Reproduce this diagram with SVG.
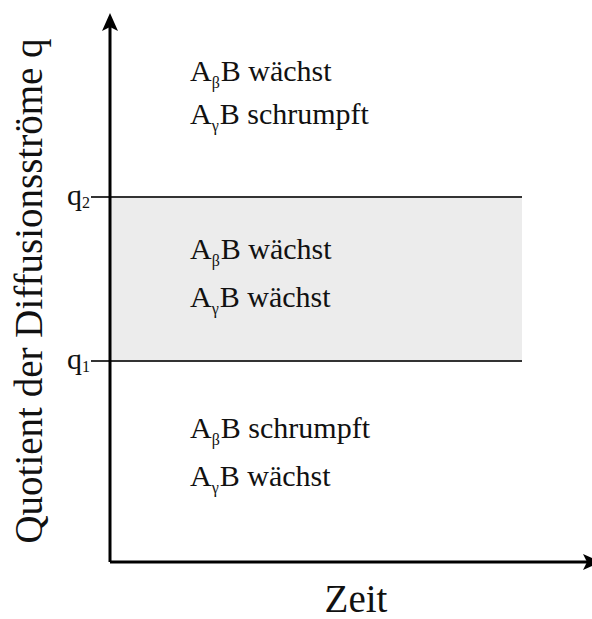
<svg xmlns="http://www.w3.org/2000/svg" width="592" height="619" viewBox="0 0 592 619">
  <style>
    .lbl { font-size: 30px; }
    .sub { font-size: 16px; }
    .axis-title { font-size: 39px; }
    .axis { stroke: #000; stroke-width: 3; fill: none; }
    .level { stroke: #333; stroke-width: 2; fill: none; }
  </style>
  <defs>
    <marker id="arrow" markerUnits="userSpaceOnUse" viewBox="0 0 18 16" refX="4" refY="8" markerWidth="18" markerHeight="16" orient="auto">
      <path d="M0,0 L18,8 L0,16 L4,8 Z" fill="#000"/>
    </marker>
  </defs>

  <!-- intermediate band between q1 and q2 -->
  <rect id="band" x="110" y="197" width="412" height="164" fill="#ececec"/>

  <g id="connectors">
    <line class="level" x1="91" y1="197" x2="522" y2="197"/>
    <line class="level" x1="91" y1="361" x2="522" y2="361"/>
    <path class="axis" d="M110,562 L110,27" marker-end="url(#arrow)"/>
    <path class="axis" d="M110,562 L587,562" marker-end="url(#arrow)"/>
  </g>

  <g font-family="'Liberation Serif', 'DejaVu Serif', 'Times New Roman', serif" fill="#111">
    <g id="q2">
      <text class="lbl" x="67" y="205">q<tspan class="sub" dy="3">2</tspan></text>
    </g>
    <g id="q1">
      <text class="lbl" x="67" y="369">q<tspan class="sub" dy="3">1</tspan></text>
    </g>

    <g id="region-top">
      <text class="lbl" x="190" y="81">A<tspan class="sub" dy="7">β</tspan><tspan dy="-7" dx="1">B wächst</tspan></text>
      <text class="lbl" x="190" y="124">A<tspan class="sub" dy="7">γ</tspan><tspan dy="-7" dx="1">B schrumpft</tspan></text>
    </g>
    <g id="region-middle">
      <text class="lbl" x="190" y="259">A<tspan class="sub" dy="7">β</tspan><tspan dy="-7" dx="1">B wächst</tspan></text>
      <text class="lbl" x="190" y="307">A<tspan class="sub" dy="7">γ</tspan><tspan dy="-7" dx="1">B wächst</tspan></text>
    </g>
    <g id="region-bottom">
      <text class="lbl" x="190" y="438">A<tspan class="sub" dy="7">β</tspan><tspan dy="-7" dx="1">B schrumpft</tspan></text>
      <text class="lbl" x="190" y="486">A<tspan class="sub" dy="7">γ</tspan><tspan dy="-7" dx="1">B wächst</tspan></text>
    </g>

    <g id="y-title">
      <text class="axis-title" x="0" y="0" text-anchor="middle" transform="translate(42,291) rotate(-90)">Quotient der Diffusionsströme q</text>
    </g>
    <g id="x-title">
      <text class="axis-title" x="356" y="612" text-anchor="middle">Zeit</text>
    </g>
  </g>
</svg>
